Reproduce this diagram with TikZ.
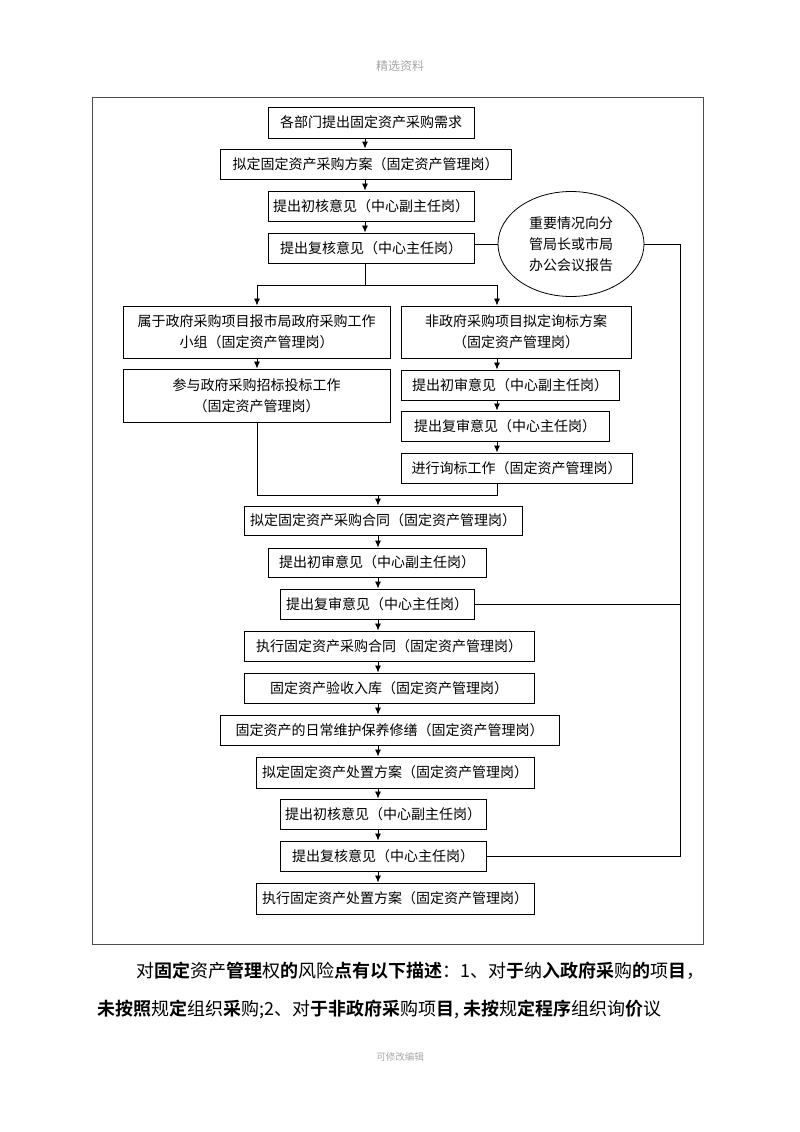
\documentclass[tikz,border=0pt]{standalone}
\usepackage{fontspec}
\usepackage{tikz}
\usetikzlibrary{arrows.meta,shapes.geometric}
\newfontfamily\cjk{Noto Sans CJK SC}[BoldFont={* Bold}]
\tikzset{
	box/.style={draw, line width=1pt, inner sep=0pt, align=center, font=\cjk\fontsize{14}{21}\selectfont},
	arr/.style={-{Latex[length=7pt,width=6pt]}, line width=0.8pt},
	wire/.style={line width=0.8pt}
}
\begin{document}
\begin{tikzpicture}[x=1pt, y=-1pt]
		\useasboundingbox (0,0) rectangle (800,1132);
		\node[font=\cjk\fontsize{12}{14}\selectfont, text=gray!70] (hdr) at (400,66) {精选资料};
		\node[font=\cjk\fontsize{9.5}{11}\selectfont, text=gray!70] (ftr) at (400,1057) {可修改编辑};
		\draw[gray!60!black, line width=1pt] (92,97) rectangle (703,944);
		\coordinate (xa) at (365,0);
		\coordinate (xl) at (257,0);
		\coordinate (xr) at (497,0);
		\coordinate (sp) at (378,0);
		\coordinate (rt) at (680,0);
		\node[box, minimum width=206, minimum height=31] (b1) at (371,122.5) {各部门提出固定资产采购需求};
		\node[box, minimum width=291, minimum height=30] (b2) at (365.5,164) {拟定固定资产采购方案（固定资产管理岗）};
		\node[box, minimum width=206, minimum height=30] (b3) at (371,206) {提出初核意见（中心副主任岗）};
		\node[box, minimum width=206, minimum height=30] (b4) at (371,248) {提出复核意见（中心主任岗）};
		\node[box, ellipse, minimum width=146, minimum height=105, line width=0.8pt] (rep) at (571,244) {重要情况向分\\管局长或市局\\办公会议报告};
		\node[box, minimum width=267, minimum height=52] (gA) at (256.5,332) {属于政府采购项目报市局政府采购工作\\小组（固定资产管理岗）};
		\node[box, minimum width=267, minimum height=53] (gC) at (256.5,395.5) {参与政府采购招标投标工作\\（固定资产管理岗）};
		\node[box, minimum width=230, minimum height=52] (nB) at (516,332) {非政府采购项目拟定询标方案\\（固定资产管理岗）};
		\node[box, minimum width=218, minimum height=30] (nB1) at (510,385) {提出初审意见（中心副主任岗）};
		\node[box, minimum width=208, minimum height=30] (nB2) at (505,426) {提出复审意见（中心主任岗）};
		\node[box, minimum width=231, minimum height=30] (nB3) at (516.5,468) {进行询标工作（固定资产管理岗）};
		\node[box, minimum width=278, minimum height=29] (D) at (383,520.5) {拟定固定资产采购合同（固定资产管理岗）};
		\node[box, minimum width=218, minimum height=29] (E) at (377,562.5) {提出初审意见（中心副主任岗）};
		\node[box, minimum width=194, minimum height=30] (F) at (377,604) {提出复审意见（中心主任岗）};
		\node[box, minimum width=290, minimum height=30] (G) at (389,646) {执行固定资产采购合同（固定资产管理岗）};
		\node[box, minimum width=290, minimum height=30] (H) at (389,688) {固定资产验收入库（固定资产管理岗）};
		\node[box, minimum width=339, minimum height=30] (I) at (389.5,730) {固定资产的日常维护保养修缮（固定资产管理岗）};
		\node[box, minimum width=278, minimum height=31] (J) at (395,772.5) {拟定固定资产处置方案（固定资产管理岗）};
		\node[box, minimum width=206, minimum height=30] (K) at (383,814) {提出初核意见（中心副主任岗）};
		\node[box, minimum width=206, minimum height=30] (L) at (383,856) {提出复核意见（中心主任岗）};
		\node[box, minimum width=278, minimum height=31] (M) at (395,898.5) {执行固定资产处置方案（固定资产管理岗）};
		\foreach \a/\b in {b1/b2, b2/b3, b3/b4}
			\draw[arr] (\a.south -| xa) -- (\b.north -| xa);
		\coordinate (split) at (365,285);
		\draw[wire] (b4.south -| xa) -- (split);
		\draw[arr] (split) -| (gA.north -| xl);
		\draw[arr] (split) -| (nB.north -| xr);
		\draw[arr] (gA.south -| xl) -- (gC.north -| xl);
		\foreach \a/\b in {nB/nB1, nB1/nB2, nB2/nB3}
			\draw[arr] (\a.south -| xr) -- (\b.north -| xr);
		\coordinate (merge) at (378,495);
		\draw[wire] (gC.south -| xl) |- (merge);
		\draw[wire] (nB3.south -| xr) |- (merge);
		\draw[arr] (merge) -- (D.north -| sp);
		\foreach \a/\b in {D/E, E/F, F/G, G/H, H/I, I/J, J/K, K/L, L/M}
			\draw[arr] (\a.south -| sp) -- (\b.north -| sp);
		\draw[wire] (rep.west) -- (rep.west -| b4.east);
		\draw[wire] (rep.east) -- (rep.east -| rt) -- (L.east -| rt) -- (L.east);
		\draw[wire] (F.east) -- (F.east -| rt);
		\node[anchor=base west, inner sep=0pt, font=\cjk\fontsize{18}{22}\selectfont] (p1) at (136,977) {对\textbf{固定}资产\textbf{管理}权\textbf{的}风险\textbf{点有以下描述}：1、对\textbf{于}纳\textbf{入政府采}购\textbf{的}项\textbf{目}，};
		\node[anchor=base west, inner sep=0pt, font=\cjk\fontsize{18}{22}\selectfont] (p2) at (97,1015) {\textbf{未按照}规\textbf{定}组织\textbf{采}购;2、对\textbf{于非政府采}购项\textbf{目}, \textbf{未按}规\textbf{定程序}组织询\textbf{价}议};
	\end{tikzpicture}
\end{document}
